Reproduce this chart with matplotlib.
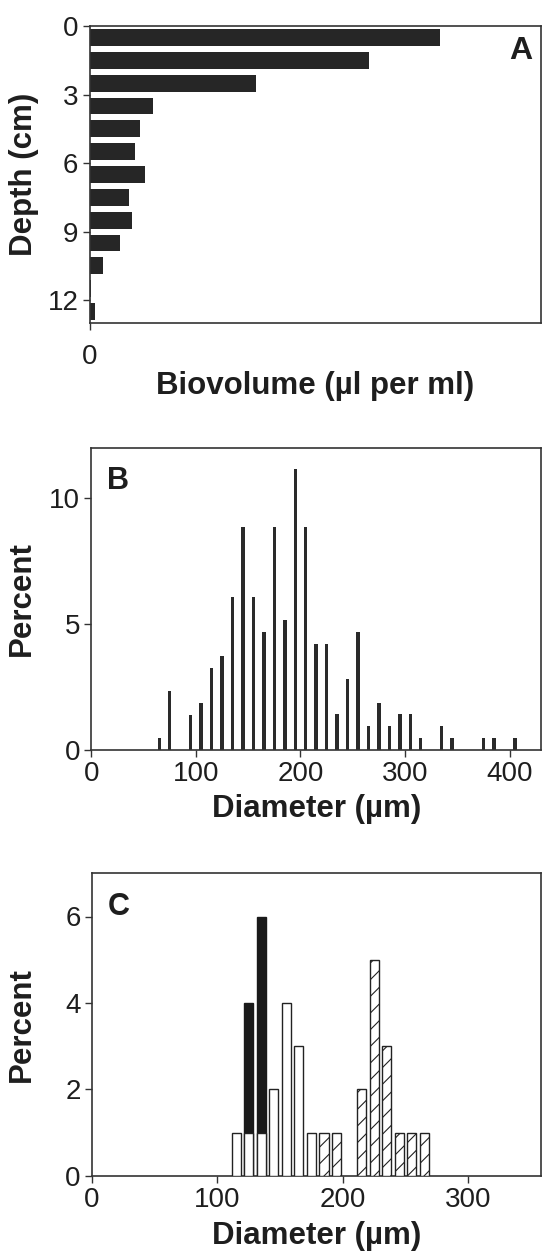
import matplotlib
matplotlib.use('Agg')
import matplotlib.pyplot as plt

########################################
# Data
########################################

# Panel A: biovolume per 1 cm depth slice
depth = [0.5, 1.5, 2.5, 3.5, 4.5, 5.5, 6.5, 7.5, 8.5, 9.5, 10.5, 11.5, 12.5]
biovolume = [77.7, 61.8, 36.8, 14.0, 11.1, 10.1, 12.2, 8.8, 9.5, 6.8, 2.9, 0.4, 1.2]

# Panel B: diameter distribution
diam_b = [65, 75, 95, 105, 115, 125, 135, 145, 155, 165, 175, 185, 195, 205, 215,
          225, 235, 245, 255, 265, 275, 285, 295, 305, 315, 335, 345, 375, 385, 405]
pct_b = [0.47, 2.35, 1.4, 1.85, 3.27, 3.73, 6.08, 8.86, 6.08, 4.67, 8.86, 5.15, 11.18, 8.86, 4.2,
         4.2, 1.42, 2.82, 4.67, 0.95, 1.88, 0.95, 1.42, 1.42, 0.47, 0.95, 0.47, 0.47, 0.47, 0.47]

# Panel C: three groups
diam_c_black = [125, 135]
pct_c_black = [4, 6]
diam_c_white = [115, 125, 135, 145, 155, 165, 175]
pct_c_white = [1, 1, 1, 2, 4, 3, 1]
diam_c_hatch = [185, 195, 215, 225, 235, 245, 255, 265]
pct_c_hatch = [1, 1, 2, 5, 3, 1, 1, 1]

########################################
# Style
########################################

plt.rcParams['font.family'] = ['Liberation Sans', 'DejaVu Sans']
plt.rcParams['hatch.linewidth'] = 0.8
INK = '#1e1e1e'
TICK_FS = 20
LABEL_FS = 22.5

W, H = 543, 1260
fig = plt.figure(figsize=(W / 100, H / 100), dpi=100)


def px_axes(left, top, right, bottom):
    return fig.add_axes([left / W, 1 - bottom / H, (right - left) / W, (bottom - top) / H])


def style(ax):
    for s in ax.spines.values():
        s.set_color('#333333')
        s.set_linewidth(1.2)
    ax.tick_params(direction='out', length=5, width=1, colors='#333333',
                   labelsize=TICK_FS, labelcolor=INK, top=False, right=False)


########################################
# Panel A
########################################

axA = px_axes(89.5, 26, 541, 323)
axA.barh(depth, biovolume, height=0.74, color='#262626', edgecolor='none')
axA.set_ylim(13, 0)
axA.set_xlim(0, 100)
axA.set_yticks([0, 3, 6, 9, 12])
axA.set_xticks([0])
style(axA)
axA.tick_params(axis='x', pad=10)
axA.tick_params(axis='y', pad=3)
axA.set_ylabel('Depth (cm)', fontsize=LABEL_FS, fontweight='bold', color=INK)
axA.yaxis.set_label_coords(-0.112, 0.5)
axA.set_xlabel('Biovolume (\u00b5l per ml)', fontsize=LABEL_FS, fontweight='bold', color=INK)
axA.xaxis.set_label_coords(0.5, -0.16)
axA.text(0.955, 0.915, 'A', transform=axA.transAxes, ha='center', va='center',
         fontsize=23, fontweight='bold', color=INK)

########################################
# Panel B
########################################

axB = px_axes(91.3, 448, 541, 750)
axB.bar(diam_b, pct_b, width=3.3, color='#2a2a2a', edgecolor='none')
axB.set_xlim(0, 430)
axB.set_ylim(0, 12)
axB.set_xticks([0, 100, 200, 300, 400])
axB.set_yticks([0, 5, 10])
style(axB)
axB.tick_params(axis='x', pad=3)
axB.tick_params(axis='y', pad=3)
axB.set_ylabel('Percent', fontsize=LABEL_FS, fontweight='bold', color=INK)
axB.yaxis.set_label_coords(-0.122, 0.5)
axB.set_xlabel('Diameter (\u00b5m)', fontsize=LABEL_FS, fontweight='bold', color=INK)
axB.xaxis.set_label_coords(0.5, -0.145)
axB.text(0.06, 0.89, 'B', transform=axB.transAxes, ha='center', va='center',
         fontsize=22, fontweight='bold', color=INK)

########################################
# Panel C
########################################

axC = px_axes(91.8, 873.3, 541, 1175.7)
axC.bar(diam_c_black, pct_c_black, width=7.0, color='#1a1a1a', edgecolor='#1a1a1a', zorder=2)
axC.bar(diam_c_white, pct_c_white, width=7.3, color='white', edgecolor='#222222',
        linewidth=1.0, zorder=3)
axC.bar(diam_c_hatch, pct_c_hatch, width=7.3, color='white', edgecolor='#222222',
        linewidth=1.0, hatch='//', zorder=3)
axC.set_xlim(0, 358)
axC.set_ylim(0, 7)
axC.set_xticks([0, 100, 200, 300])
axC.set_yticks([0, 2, 4, 6])
style(axC)
axC.tick_params(axis='x', pad=3)
axC.tick_params(axis='y', pad=3)
axC.set_ylabel('Percent', fontsize=LABEL_FS, fontweight='bold', color=INK)
axC.yaxis.set_label_coords(-0.122, 0.5)
axC.set_xlabel('Diameter (\u00b5m)', fontsize=LABEL_FS, fontweight='bold', color=INK)
axC.xaxis.set_label_coords(0.5, -0.15)
axC.text(0.06, 0.89, 'C', transform=axC.transAxes, ha='center', va='center',
         fontsize=22, fontweight='bold', color=INK)

fig.savefig('out.png', dpi=100)
